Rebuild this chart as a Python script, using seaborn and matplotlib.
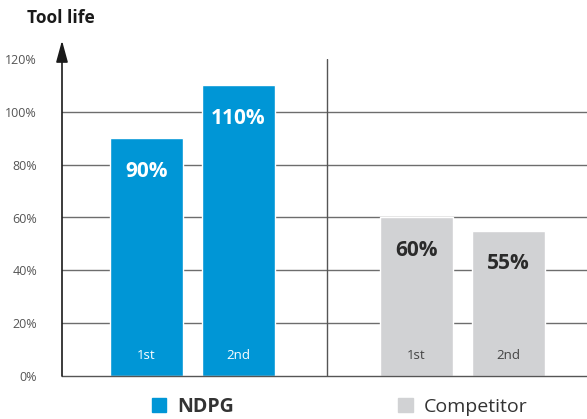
import numpy as np
import pandas as pd
import matplotlib
matplotlib.use('Agg')
import matplotlib.pyplot as plt
import matplotlib.patches as mpatches
import seaborn as sns

brands = ['NDPG', 'NDPG', 'Competitor', 'Competitor']
passes = ['1st', '2nd', '1st', '2nd']
tool_life = [90, 110, 60, 55]
y_ticks = [0, 20, 40, 60, 80, 100, 120]
colors = {'NDPG': '#0096D6', 'Competitor': '#D1D2D4'}
label_colors = {'NDPG': 'white', 'Competitor': '#2b2b2b'}
pass_colors = {'NDPG': 'white', 'Competitor': '#444444'}

sns.set_theme(style='white')
plt.rcParams['font.family'] = ['Open Sans', 'DejaVu Sans']

# positions: two bars per group, groups separated by a wider gap
group_stride = 2.935
grp_idx = {'NDPG': 0, 'Competitor': 1}
slot = [0, 1, 0, 1]
pos = [grp_idx[b] * group_stride + s for b, s in zip(brands, slot)]
df = pd.DataFrame({'pos': pos, 'brand': brands, 'pass': passes, 'life': tool_life})

fig = plt.figure(figsize=(5.87, 4.19), dpi=100)
ax = fig.add_axes([62 / 587, 43 / 419, 1 - 62 / 587, 317 / 419])

for y in y_ticks[1:-1]:
    ax.axhline(y, color='#6d6d6d', lw=1, zorder=0)

sns.barplot(data=df, x='pos', y='life', hue='brand', palette=colors,
            native_scale=True, dodge=False, width=0.79, saturation=1,
            legend=False, ax=ax, zorder=2)

ax.set_xlim(-0.918, 4.788)
ax.set_ylim(0, 120)
ax.axvline((1 + group_stride) / 2, color='#555555', lw=1, zorder=1)

for _, r in df.iterrows():
    ax.text(r['pos'], r['life'] - 12.5, f"{r['life']}%", ha='center', va='center',
            fontsize=15, fontweight='bold', color=label_colors[r['brand']], zorder=3)
    ax.text(r['pos'], 7.6, r['pass'], ha='center', va='center', fontsize=9.5,
            color=pass_colors[r['brand']], zorder=3)

ax.set_yticks(y_ticks)
ax.set_yticklabels([f'{v}%' for v in y_ticks], color='#555555', fontsize=9)
ax.set_xticks([])
ax.set_xlabel('')
ax.set_ylabel('')
ax.tick_params(axis='y', length=0, pad=18)
for s in ['top', 'right', 'left']:
    ax.spines[s].set_visible(False)
ax.spines['bottom'].set_color('#555555')
ax.spines['bottom'].set_linewidth(1)

# y axis with arrow
ax.annotate('', xy=(0, 127), xytext=(0, 0), xycoords=('axes fraction', 'data'),
            textcoords=('axes fraction', 'data'), annotation_clip=False,
            arrowprops=dict(arrowstyle='-|>,head_width=0.3,head_length=1.1',
                            color='#1a1a1a', lw=1.2, shrinkA=0, shrinkB=0))

fig.text(27 / 587, 1 - 18 / 419, 'Tool life', fontsize=12.5, fontweight='bold',
         color='#1a1a1a', ha='left', va='center')

handles = [mpatches.Patch(color=colors['NDPG']), mpatches.Patch(color=colors['Competitor'])]
leg = fig.legend(handles, ['NDPG', 'Competitor'], ncol=2, loc='center',
                 bbox_to_anchor=(339.5 / 587, 1 - 407 / 419), frameon=False,
                 fontsize=14, handlelength=0.75, handleheight=0.75,
                 handletextpad=0.55, columnspacing=8.45)
leg.get_texts()[0].set_fontweight('bold')
for t in leg.get_texts():
    t.set_color('#333333')

fig.savefig('out.png', dpi=100)
